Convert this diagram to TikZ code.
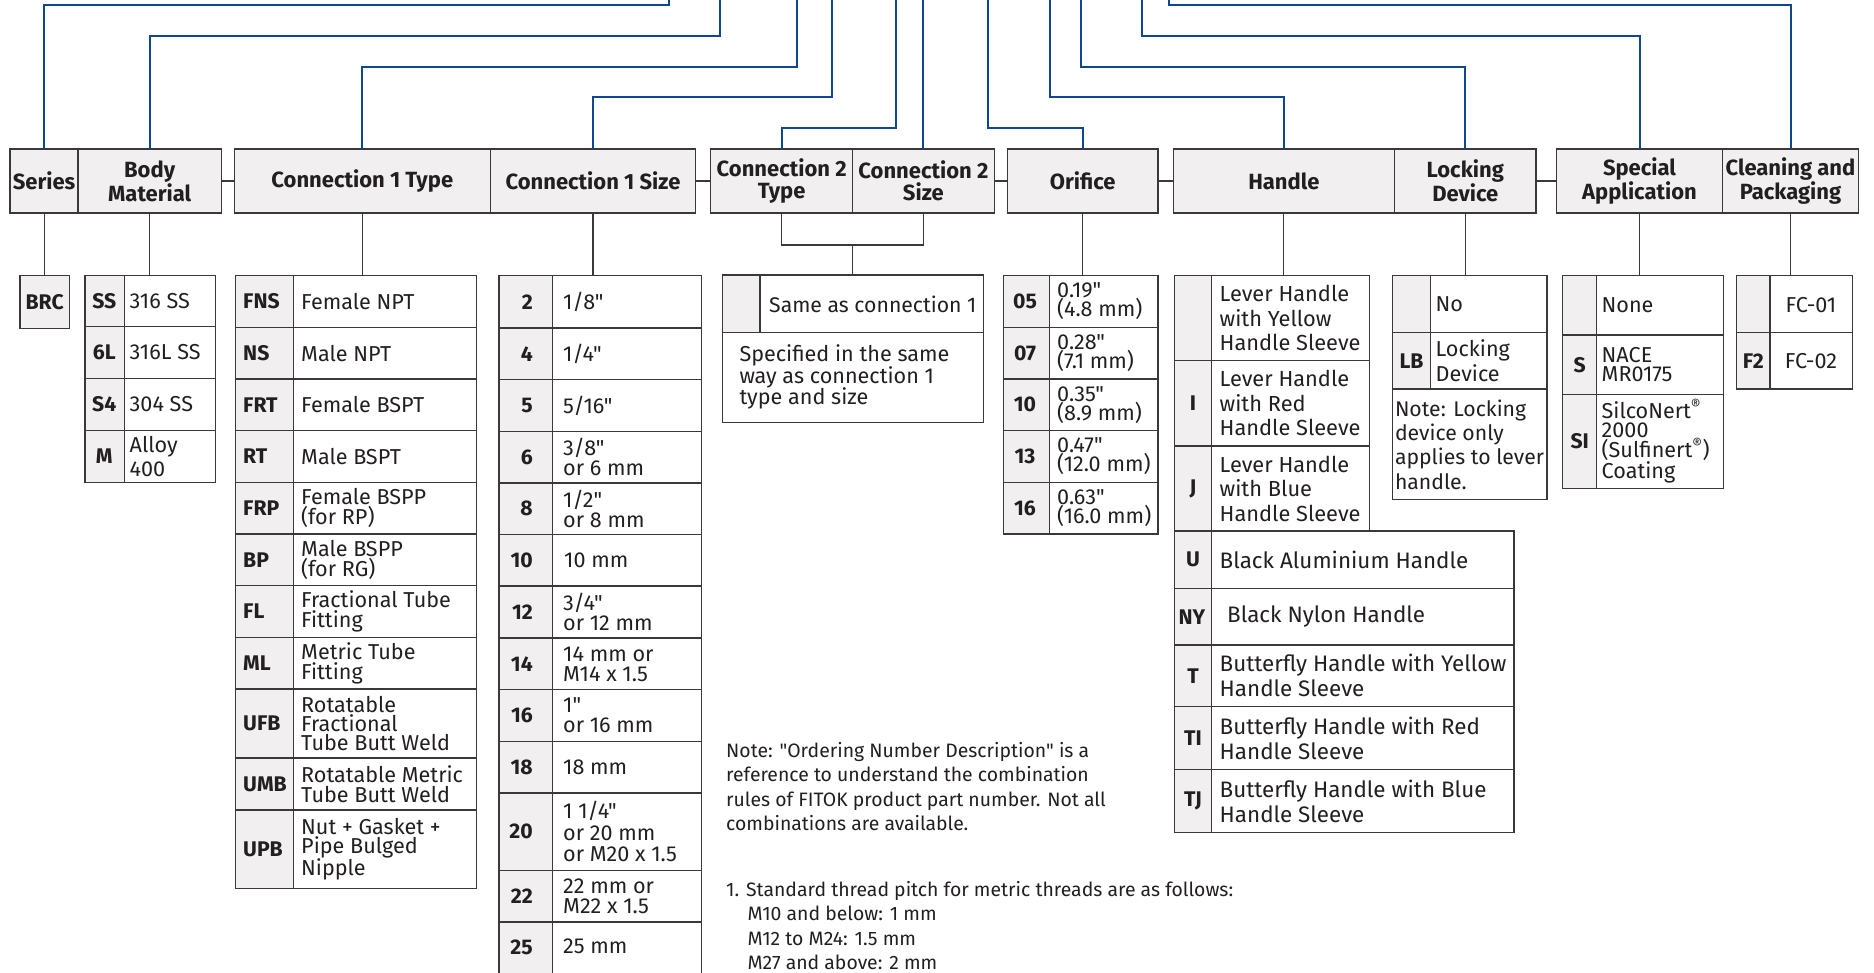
\documentclass[tikz,border=0pt]{standalone}
\usepackage{fontspec}
\setmainfont{Fira Sans}[Ligatures=TeXOff]
\definecolor{fblue}{RGB}{14,70,146}
\definecolor{hgray}{RGB}{241,239,240}
\definecolor{bgray}{RGB}{58,56,57}
\definecolor{ink}{RGB}{35,31,32}
\newcommand\txf{\fontsize{21.6}{20}\selectfont}
\newcommand\hdf{\fontsize{22}{22}\selectfont\bfseries}
\newcommand\cdf{\fontsize{21.2}{20}\selectfont\bfseries}
\newcommand\ntf{\fontsize{19.4}{24.4}\selectfont}
\tikzset{
  hbox/.style={draw=bgray, line width=1.3pt, fill=hgray, inner sep=0pt, outer sep=0pt, minimum height=64pt, align=center, font=\hdf, text=ink},
  tbox/.style={draw=bgray, line width=1.3pt, inner sep=0pt, outer sep=0pt, anchor=north west},
  bl/.style={draw=fblue, line width=2pt},
  thin/.style={draw=bgray, line width=1.1pt},
  tb/.style={draw=bgray, line width=1.3pt},
  tx/.style={inner sep=0pt, anchor=west, align=left, font=\txf, text=ink},
  cd/.style={inner sep=0pt, font=\cdf, text=ink},
  cdl/.style={cd, anchor=west},
  cdr/.style={cd, anchor=east},
}
\newcommand\bline[4]{\coordinate (k#1) at (#3,#4); \coordinate (e#1) at (#3,0); \draw[bl] (#2.north) |- (k#1) -- (e#1);}
\begin{document}
\begin{tikzpicture}[x=1pt,y=-1pt]
\useasboundingbox (0,0) rectangle (1874,972);
\clip (0,0) rectangle (1874,972);

% ---------- header ----------
\node[hbox, minimum width=67.9pt] (hSer) at (44.05,181) {Series};
\node[hbox, minimum width=143.3pt] (hBody) at (149.65,181) {Body\\Material};
\node[hbox, minimum width=256.2pt] (hC1T) at (362.3,181) {Connection 1 Type};
\node[hbox, minimum width=205.2pt] (hC1S) at (593,181) {Connection 1 Size};
\node[hbox, minimum width=141.9pt] (hC2T) at (781.65,181) {Connection 2\\Type};
\node[hbox, minimum width=141.6pt] (hC2S) at (923.4,181) {Connection 2\\Size};
\node[hbox, minimum width=150.3pt] (hOri) at (1082.75,181) {Orifice};
\node[hbox, minimum width=221.1pt] (hHan) at (1283.85,181) {Handle};
\node[hbox, minimum width=141.7pt] (hLock) at (1465.25,181) {Locking\\Device};
\node[hbox, minimum width=166.6pt] (hSpec) at (1639.5,181) {Special\\Application};
\node[hbox, minimum width=135.4pt] (hClean) at (1790.5,181) {Cleaning and\\Packaging};

\draw[thin] (hBody.east) -- (hC1T.west);
\draw[thin] (hC1S.east) -- (hC2T.west);
\draw[thin] (hC2S.east) -- (hOri.west);
\draw[thin] (hOri.east) -- (hHan.west);
\draw[thin] (hLock.east) -- (hSpec.west);

% ---------- blue lines ----------
\bline{1}{hSer}{669.4}{5}
\bline{2}{hBody}{719.5}{35.7}
\bline{3}{hC1T}{796.9}{66.7}
\bline{4}{hC1S}{831.7}{97.3}
\bline{5}{hC2T}{895.7}{127.7}
\coordinate (e6) at (923.4,0);
\draw[bl] (hC2S.north) -- (e6);
\bline{7}{hOri}{987.5}{127.7}
\bline{8}{hHan}{1050.3}{97.3}
\bline{9}{hLock}{1080.8}{66.7}
\bline{10}{hSpec}{1142.1}{35.7}
\bline{11}{hClean}{1169.4}{5}

% ---------- series ----------
\node[tbox, fill=hgray, minimum width=49.3pt, minimum height=52.6pt, font=\cdf, text=ink] (tSer) at (20,275.7) {BRC};
\draw[thin] (hSer.south) -- (hSer.south |- tSer.north);

% ---------- body material ----------
\fill[hgray] (85,275.7) rectangle (124.3,482.3);
\node[tbox, minimum width=130.3pt, minimum height=206.6pt] (tBody) at (85,275.7) {};
\draw[tb] (124.3,275.7) -- (124.3,482.3);
\foreach \y in {326.7,378.3,430.7} \draw[tb] (85,\y) -- (215.3,\y);
\draw[thin] (hBody.south) -- (hBody.south |- tBody.north);
\node[cd] (bc1) at (104.3,301.2) {SS};
\node[cd] (bc2) at (104.3,352.5) {6L};
\node[cd] (bc3) at (104.3,404.5) {S4};
\node[cd] (bc4) at (104.3,456.5) {M};
\node[tx] (bd1) at (129.5,301.2) {316 SS};
\node[tx] (bd2) at (129.5,352.5) {316L SS};
\node[tx] (bd3) at (129.5,404.5) {304 SS};
\node[tx, font=\fontsize{21.6}{24}\selectfont] (bd4) at (129.5,456.5) {Alloy\\400};

% ---------- connection 1 type ----------
\fill[hgray] (235.7,275.7) rectangle (293.3,888.3);
\node[tbox, minimum width=241pt, minimum height=612.6pt] (tC1T) at (235.7,275.7) {};
\draw[tb] (293.3,275.7) -- (293.3,888.3);
\foreach \y in {327.3,379,430.7,482.3,534,585.7,637.3,689,758,810} \draw[tb] (235.7,\y) -- (476.7,\y);
\draw[thin] (hC1T.south) -- (hC1T.south |- tC1T.north);
\node[cdl] (tc1) at (243,301.5) {FNS};
\node[cdl] (tc2) at (243,353.15) {NS};
\node[cdl] (tc3) at (243,404.85) {FRT};
\node[cdl] (tc4) at (243,456.5) {RT};
\node[cdl] (tc5) at (243,508.15) {FRP};
\node[cdl] (tc6) at (243,559.85) {BP};
\node[cdl] (tc7) at (243,611.5) {FL};
\node[cdl] (tc8) at (243,663.15) {ML};
\node[cdl] (tc9) at (243,723.5) {UFB};
\node[cdl] (tc10) at (243,784) {UMB};
\node[cdl] (tc11) at (243,849.15) {UPB};
\node[tx] (td1) at (301,301.5) {Female NPT};
\node[tx] (td2) at (301,353.15) {Male NPT};
\node[tx] (td3) at (301,404.85) {Female BSPT};
\node[tx] (td4) at (301,456.5) {Male BSPT};
\node[tx] (td5) at (301,508.15) {Female BSPP\\(for RP)};
\node[tx] (td6) at (301,559.85) {Male BSPP\\(for RG)};
\node[tx] (td7) at (301,611.5) {Fractional Tube\\Fitting};
\node[tx] (td8) at (301,663.15) {Metric Tube\\Fitting};
\node[tx, font=\fontsize{21.6}{19}\selectfont] (td9) at (301,723.5) {Rotatable\\Fractional\\Tube Butt Weld};
\node[tx] (td10) at (301,784) {Rotatable Metric\\Tube Butt Weld};
\node[tx, font=\fontsize{21.6}{19}\selectfont] (td11) at (301,849.15) {Nut + Gasket +\\Pipe Bulged\\Nipple};

% ---------- connection 1 size ----------
\fill[hgray] (499,275.7) rectangle (552.7,990);
\node[tbox, minimum width=202.7pt, minimum height=714.3pt] (tC1S) at (499,275.7) {};
\draw[tb] (552.7,275.7) -- (552.7,990);
\foreach \y in {328,379.7,431.3,483,534.7,586,638,689.7,741.3,793,870.7,922} \draw[tb] (499,\y) -- (701.7,\y);
\draw[thin] (hC1S.south) -- (hC1S.south |- tC1S.north);
\node[cdr] (sc1) at (533,301.85) {2};
\node[cdr] (sc2) at (533,353.85) {4};
\node[cdr] (sc3) at (533,405.5) {5};
\node[cdr] (sc4) at (533,457.15) {6};
\node[cdr] (sc5) at (533,508.85) {8};
\node[cdr] (sc6) at (533,560.35) {10};
\node[cdr] (sc7) at (533,612) {12};
\node[cdr] (sc8) at (533,663.85) {14};
\node[cdr] (sc9) at (533,715.5) {16};
\node[cdr] (sc10) at (533,767.15) {18};
\node[cdr] (sc11) at (533,831.85) {20};
\node[cdr] (sc12) at (533,896.35) {22};
\node[cdr] (sc13) at (533,947) {25};
\node[tx] (sd1) at (563,301.85) {1/8"};
\node[tx] (sd2) at (563,353.85) {1/4"};
\node[tx] (sd3) at (563,405.5) {5/16"};
\node[tx] (sd4) at (563,457.15) {3/8"\\or 6 mm};
\node[tx] (sd5) at (563,508.85) {1/2"\\or 8 mm};
\node[tx] (sd6) at (564,560.35) {10 mm};
\node[tx] (sd7) at (563,612) {3/4"\\or 12 mm};
\node[tx] (sd8) at (563,663.85) {14 mm or\\M14 x 1.5};
\node[tx] (sd9) at (563,715.5) {1"\\or 16 mm};
\node[tx] (sd10) at (563,767.15) {18 mm};
\node[tx, font=\fontsize{21.6}{21.5}\selectfont] (sd11) at (563,831.85) {1 1/4"\\or 20 mm\\or M20 x 1.5};
\node[tx] (sd12) at (563,896.35) {22 mm or\\M22 x 1.5};
\node[tx] (sd13) at (563,946) {25 mm};

% ---------- connection 2 ----------
\fill[hgray] (722.3,275) rectangle (760,332.7);
\node[tbox, minimum width=261pt, minimum height=147.3pt] (tC2) at (722.3,275) {};
\draw[tb] (760,275) -- (760,332.7);
\draw[tb] (722.3,332.7) -- (983.3,332.7);
\draw[thin] (hC2T.south) -- ++(0,32) -| (hC2S.south);
\draw[thin] (tC2.north) -- ++(0,-30);
\node[tx, font=\fontsize{21.2}{20}\selectfont] (c2a) at (769,303.9) {Same as connection 1};
\node[tx, font=\fontsize{21.6}{21.7}\selectfont] (c2b) at (739.3,377) {Specified in the same\\way as connection 1\\type and size};

% ---------- orifice ----------
\fill[hgray] (1003.2,275.7) rectangle (1049.6,534);
\node[tbox, minimum width=154.7pt, minimum height=258.3pt] (tOri) at (1003.2,275.7) {};
\draw[tb] (1049.6,275.7) -- (1049.6,534);
\foreach \y in {327.3,379,430.7,482.3} \draw[tb] (1003.2,\y) -- (1157.9,\y);
\draw[thin] (hOri.south) -- (hOri.south |- tOri.north);
\node[cd] (oc1) at (1025,301.5) {05};
\node[cd] (oc2) at (1025,353.15) {07};
\node[cd] (oc3) at (1025,404.85) {10};
\node[cd] (oc4) at (1025,456.5) {13};
\node[cd] (oc5) at (1025,508.15) {16};
\node[tx, font=\fontsize{21.6}{19}\selectfont] (od1) at (1057,301.5) {0.19"\\(4.8 mm)};
\node[tx, font=\fontsize{21.6}{19}\selectfont] (od2) at (1057,353.15) {0.28"\\(7.1 mm)};
\node[tx, font=\fontsize{21.6}{19}\selectfont] (od3) at (1057,404.85) {0.35"\\(8.9 mm)};
\node[tx, font=\fontsize{21.6}{19}\selectfont] (od4) at (1057,456.5) {0.47"\\(12.0 mm)};
\node[tx, font=\fontsize{21.6}{19}\selectfont] (od5) at (1057,508.15) {0.63"\\(16.0 mm)};

% ---------- handle ----------
\fill[hgray] (1174.3,275.7) rectangle (1211.5,832.7);
\node[tbox, minimum width=195.3pt, minimum height=255.3pt] (tHan) at (1174.3,275.7) {};
\node[tbox, minimum width=339.7pt, minimum height=301.7pt] (tHan2) at (1174.3,531) {};
\draw[tb] (1211.5,275.7) -- (1211.5,832.7);
\foreach \y in {360.7,446} \draw[tb] (1174.3,\y) -- (1369.6,\y);
\foreach \y in {588.3,645,706.7,769.3} \draw[tb] (1174.3,\y) -- (1514,\y);
\draw[thin] (hHan.south) -- (hHan.south |- tHan.north);
\node[cd] (hc2) at (1193,403.35) {I};
\node[cd] (hc3) at (1193,488.5) {J};
\node[cd] (hc4) at (1193,559.65) {U};
\node[cd] (hc5) at (1192,616.65) {NY};
\node[cd] (hc6) at (1193,675.85) {T};
\node[cd] (hc7) at (1193,738) {TI};
\node[cd] (hc8) at (1193,801) {TJ};
\node[tx, font=\fontsize{21.8}{24.5}\selectfont] (hd1) at (1219.5,318.2) {Lever Handle\\with Yellow\\Handle Sleeve};
\node[tx, font=\fontsize{21.8}{24.5}\selectfont] (hd2) at (1219.5,403.35) {Lever Handle\\with Red\\Handle Sleeve};
\node[tx, font=\fontsize{21.8}{24.5}\selectfont] (hd3) at (1219.5,488.5) {Lever Handle\\with Blue\\Handle Sleeve};
\node[tx, font=\fontsize{22.4}{25}\selectfont] (hd4) at (1219.5,559.65) {Black Aluminium Handle};
\node[tx, font=\fontsize{22.4}{25}\selectfont] (hd5) at (1227,616.65) {Black Nylon Handle};
\node[tx, font=\fontsize{22.4}{25}\selectfont] (hd6) at (1219.5,675.85) {Butterfly Handle with Yellow\\Handle Sleeve};
\node[tx, font=\fontsize{22.4}{25}\selectfont] (hd7) at (1219.5,738) {Butterfly Handle with Red\\Handle Sleeve};
\node[tx, font=\fontsize{22.4}{25}\selectfont] (hd8) at (1219.5,801) {Butterfly Handle with Blue\\Handle Sleeve};

% ---------- locking device ----------
\fill[hgray] (1392.5,275.7) rectangle (1430.4,389);
\node[tbox, minimum width=154.5pt, minimum height=223.6pt] (tLock) at (1392.5,275.7) {};
\draw[tb] (1430.4,275.7) -- (1430.4,389);
\draw[tb] (1392.5,332.3) -- (1547,332.3);
\draw[tb] (1392.5,389) -- (1547,389);
\draw[thin] (hLock.south) -- (hLock.south |- tLock.north);
\node[cd] (lc2) at (1411.5,360.65) {LB};
\node[tx] (ld1) at (1435.5,304) {No};
\node[tx, font=\fontsize{21.6}{25}\selectfont] (ld2) at (1435.5,360.65) {Locking\\Device};
\node[tx, font=\fontsize{21.2}{24.3}\selectfont] (ln) at (1394.8,444.5) {Note: Locking\\device only\\applies to lever\\handle.};

% ---------- special application ----------
\fill[hgray] (1562.7,275.7) rectangle (1596.7,488.3);
\node[tbox, minimum width=160.6pt, minimum height=212.6pt] (tSpec) at (1562.7,275.7) {};
\draw[tb] (1596.7,275.7) -- (1596.7,488.3);
\foreach \y in {335,394.3} \draw[tb] (1562.7,\y) -- (1723.3,\y);
\draw[thin] (hSpec.south) -- (hSpec.south |- tSpec.north);
\node[cd] (pc2) at (1579.7,364.65) {S};
\node[cd] (pc3) at (1579.7,441.3) {SI};
\node[tx] (pd1) at (1601.5,305.35) {None};
\node[tx, font=\fontsize{21.6}{18.5}\selectfont] (pd2) at (1601.5,364.65) {NACE\\MR0175};
\node[tx, font=\fontsize{21.6}{19.5}\selectfont] (pd3) at (1601.5,441.3) {SilcoNert\textsuperscript{®}\\2000\\(Sulfinert\textsuperscript{®})\\Coating};

% ---------- cleaning and packaging ----------
\fill[hgray] (1736.7,275.7) rectangle (1770,389);
\node[tbox, minimum width=115.6pt, minimum height=113.3pt] (tClean) at (1736.7,275.7) {};
\draw[tb] (1770,275.7) -- (1770,389);
\draw[tb] (1736.7,332.3) -- (1852.3,332.3);
\draw[thin] (hClean.south) -- (hClean.south |- tClean.north);
\node[cd] (gc2) at (1753.3,360.65) {F2};
\node[inner sep=0pt, font=\txf, text=ink] (gd1) at (1811,305) {FC-01};
\node[inner sep=0pt, font=\txf, text=ink] (gd2) at (1811,361.5) {FC-02};

% ---------- notes ----------
\node[tx, font=\ntf] (note1) at (726,786.7) {Note: "Ordering Number Description" is a\\reference to understand the combination\\rules of FITOK product part number. Not all\\combinations are available.};
\node[tx, font=\ntf] (note2) at (726,925.5) {1. Standard thread pitch for metric threads are as follows:\\\hspace*{21.3pt}M10 and below: 1 mm\\\hspace*{21.3pt}M12 to M24: 1.5 mm\\\hspace*{21.3pt}M27 and above: 2 mm};
\end{tikzpicture}
\end{document}
